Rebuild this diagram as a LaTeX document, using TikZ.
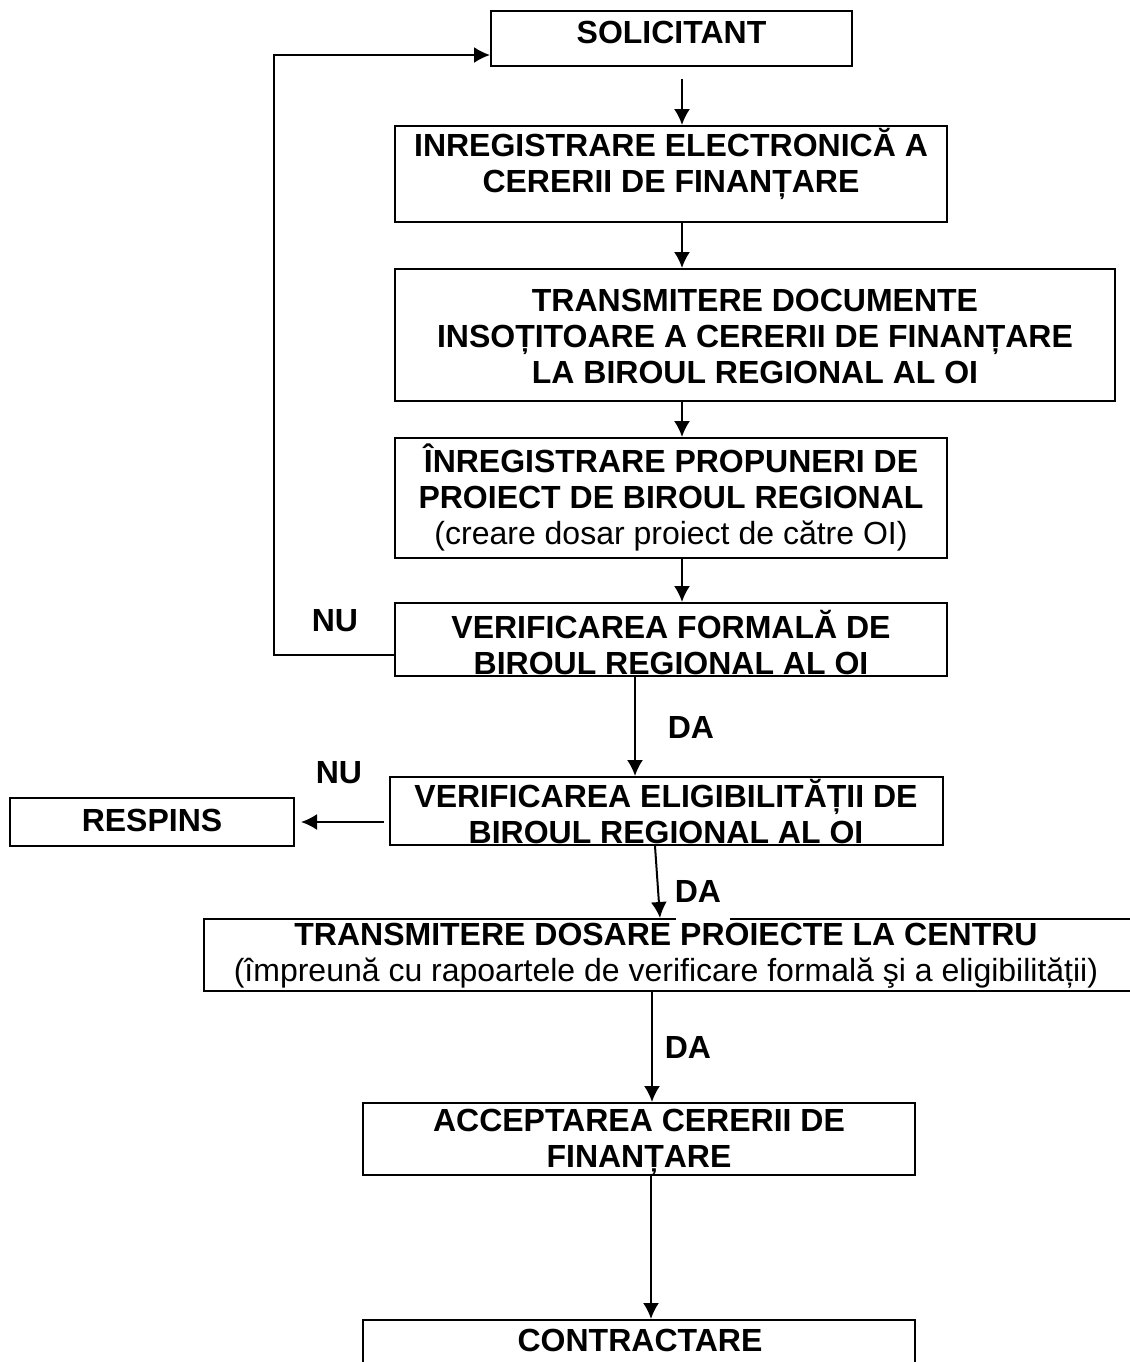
\documentclass[tikz,border=0pt]{standalone}
\usepackage{fontspec}
\setmainfont{Liberation Sans}
\usetikzlibrary{positioning,fit,calc,arrows.meta}
\tikzset{block/.style={draw,line width=1pt,inner sep=0pt},
         txt/.style={align=center,inner sep=0pt,font=\bfseries\fontsize{16}{18}\selectfont},
         line/.style={line width=1pt,-{Latex[length=8pt,width=8pt]}}
}

\begin{document}
\begin{tikzpicture}[x=0.5pt,y=0.5pt,yscale=-1,xscale=1]
\clip (0,0) rectangle (1130,1362);

%Boxes
\node[block,fit={(491,11) (852,66)}] (solicitant) {};
\node[block,fit={(395,126) (947,222)}] (inreg) {};
\node[block,fit={(395,269) (1115,401)}] (trans) {};
\node[block,fit={(395,438) (947,558)}] (propuneri) {};
\node[block,fit={(395,603) (947,676)}] (formal) {};
\node[block,fit={(390,777) (943,845)}] (elig) {};
\node[block,fit={(10,798) (294,846)}] (respins) {};
\node[block,fit={(204,919) (1140,991)}] (dosare) {};
\node[block,fit={(363,1103) (915,1175)}] (accept) {};
\node[block,fit={(363,1320) (915,1400)}] (contract) {};
% gap in the top border
\draw[white,line width=2pt] (676,919) -- (730,919);

% Text in boxes
\node[txt] (tsolicitant) at (671.5,32) {SOLICITANT};
\node[txt] (tinreg) at (671,164) {INREGISTRARE ELECTRONICĂ A\\CERERII DE FINANȚARE};
\node[txt] (ttrans) at (755,336) {TRANSMITERE DOCUMENTE\\INSOȚITOARE A CERERII DE FINANȚARE\\LA BIROUL REGIONAL AL OI};
\node[txt] (tpropuneri) at (671,497) {ÎNREGISTRARE PROPUNERI DE\\PROIECT DE BIROUL REGIONAL\\{\mdseries (creare dosar proiect de către OI)}};
\node[txt] (tformal) at (671,643) {VERIFICAREA FORMALĂ DE\\BIROUL REGIONAL AL OI};
\node[txt] (telig) at (666,812) {VERIFICAREA ELIGIBILITĂȚII DE\\BIROUL REGIONAL AL OI};
\node[txt] (trespins) at (152,820) {RESPINS};
\node[txt] (tdosare) at (666,956) {TRANSMITERE DOSARE PROIECTE LA CENTRU\\{\mdseries (împreună cu rapoartele de verificare formală şi a eligibilității)}};
\node[txt] (taccept) at (639,1142) {ACCEPTAREA CERERII DE\\FINANȚARE};
\node[txt] (tcontract) at (640,1340) {CONTRACTARE};

% Labels
\node[txt] (nu1) at (335,621) {NU};
\node[txt] (da1) at (691,727) {DA};
\node[txt] (nu2) at (339,773) {NU};
\node[txt] (da2) at (698,891) {DA};
\node[txt] (da3) at (688,1047) {DA};

% Connectors
\coordinate (c1) at (682,0);
\coordinate (c2) at (635,0);
\coordinate (c3) at (655,0);
\coordinate (c4) at (660,0);
\coordinate (c5) at (652,0);
\coordinate (c6) at (651,0);
\coordinate (loopa) at (274,655);
\coordinate (loopb) at (274,55);
\draw[line,shorten <=6pt] (solicitant.south -| c1) -- (inreg.north -| c1);
\draw[line] (inreg.south -| c1) -- (trans.north -| c1);
\draw[line] (trans.south -| c1) -- (propuneri.north -| c1);
\draw[line] (propuneri.south -| c1) -- (formal.north -| c1);
\draw[line] (loopa -| formal.west) -- (loopa) -- (loopb) -- (loopb -| solicitant.west);
\draw[line] (formal.south -| c2) -- (elig.north -| c2);
\draw[line,shorten <=2.5pt,shorten >=3pt] (elig.west |- respins.east) -- (respins.east);
\draw[line] (elig.south -| c3) -- (dosare.north -| c4);
\draw[line] (dosare.south -| c5) -- (accept.north -| c5);
\draw[line] (accept.south -| c6) -- (contract.north -| c6);

\end{tikzpicture}
\end{document}
